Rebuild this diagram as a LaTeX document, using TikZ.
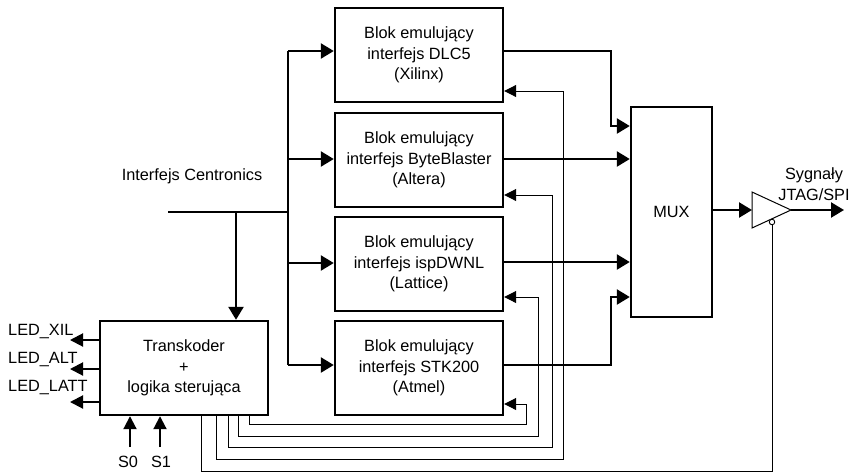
\documentclass[tikz,border=0pt]{standalone}
\usepackage{fontspec}
\setmainfont{Liberation Sans}
\usetikzlibrary{arrows.meta}
\newcommand\dfont{\fontsize{16.3}{20.5}\selectfont}
\begin{document}
\begin{tikzpicture}[x=1pt,y=-1pt,
  block/.style={draw, line width=2.4pt, minimum width=168pt, minimum height=94pt, align=center, inner sep=0pt, font=\dfont},
  lbl/.style={font=\dfont, inner sep=0pt, align=center},
  bus/.style={line width=2.4pt},
  bigarrow/.style={line width=2.4pt, -{Triangle[length=13pt,width=15pt]}},
  medarrow/.style={line width=2pt, -{Triangle[length=13pt,width=13pt]}},
  smallarrow/.style={line width=1pt, -{Triangle[length=12pt,width=12pt]}},
  thinline/.style={line width=1pt}]
\useasboundingbox (0,0) rectangle (856,472);

% blocks
\node[block] (b1) at (419,55) {Blok emulujący\\interfejs DLC5\\(Xilinx)};
\node[block] (b2) at (419,160) {Blok emulujący\\interfejs ByteBlaster\\(Altera)};
\node[block] (b3) at (419,264) {Blok emulujący\\interfejs ispDWNL\\(Lattice)};
\node[block] (b4) at (419,368) {Blok emulujący\\interfejs STK200\\(Atmel)};
\node[block] (t) at (184,368) {Transkoder\\+\\logika sterująca};
\node[draw, line width=2.4pt, minimum width=81pt, minimum height=210pt, inner sep=0pt, font=\dfont] (mux) at (671.5,212) {MUX};

% labels
\node[lbl] (lcen) at (192,176) {Interfejs Centronics};
\node[lbl, anchor=west] (lxil) at (8,332) {LED\_XIL};
\node[lbl, anchor=west] (lalt) at (8,360) {LED\_ALT};
\node[lbl, anchor=west] (llatt) at (8,388) {LED\_LATT};
\node[lbl] (ls0) at (128,462) {S0};
\node[lbl] (ls1) at (161,462) {S1};
\node[lbl] (lsyg) at (814,184) {Sygnały\\JTAG/SPI};

% Centronics bus
\coordinate (cin) at (168,212);
\coordinate (busj) at (288,212);
\coordinate (tbr) at (236,212);
\coordinate (bustop) at (288,51);
\coordinate (busbot) at (288,365);
\draw[bus] (cin) -- (busj);
\draw[bus] (bustop) -- (busbot);
\draw[bigarrow] (bustop) -- ([yshift=4pt]b1.west);
\draw[bigarrow] (288,159) -- ([yshift=1pt]b2.west);
\draw[bigarrow] (288,263) -- ([yshift=1pt]b3.west);
\draw[bigarrow] (busbot) -- ([yshift=3pt]b4.west);
\draw[bigarrow] (tbr) -- (tbr |- t.north);

% outputs to MUX
\draw[bigarrow] ([yshift=4pt]b1.east) -- (611,51) -- (611,126) -- ([yshift=86pt]mux.west);
\draw[bigarrow] ([yshift=1pt]b2.east) -- ([yshift=53pt]mux.west);
\draw[bigarrow] ([yshift=2pt]b3.east) -- ([yshift=-50pt]mux.west);
\draw[bigarrow] ([yshift=3pt]b4.east) -- (611,365) -- (611,297) -- ([yshift=-85pt]mux.west);

% buffer
\coordinate (bufin) at (752,210);
\coordinate (bufout) at (791,210);
\coordinate (sigout) at (844,210);
\draw[thinline, line join=miter] (752,192) -- (752,228) -- (bufout) -- cycle;
\node[circle, draw, line width=0.9pt, minimum size=5.5pt, inner sep=0pt, fill=white] (bub) at (772,222) {};
\draw[bigarrow] (mux.east |- bufin) -- (bufin);
\draw[bigarrow] (bufout) -- (sigout);

% LEDs
\draw[medarrow] ([yshift=28pt]t.west) -- (70,340);
\draw[medarrow] ([yshift=-1pt]t.west) -- (70,369);
\draw[medarrow] ([yshift=-34pt]t.west) -- (70,402);

% S0 S1
\draw[medarrow] (130,447) -- ([xshift=-54pt]t.south);
\draw[medarrow] (160,447) -- ([xshift=-24pt]t.south);

% feedback lines
\draw[smallarrow] ([xshift=65pt]t.south) |- (526,424) |- ([yshift=-36pt]b4.east);
\draw[smallarrow] ([xshift=54pt]t.south) |- (538,436) |- ([yshift=-33pt]b3.east);
\draw[smallarrow] ([xshift=44pt]t.south) |- (552,447) |- ([yshift=-35pt]b2.east);
\draw[smallarrow] ([xshift=32pt]t.south) |- (563,459) |- ([yshift=-36pt]b1.east);
\draw[thinline] ([xshift=17pt]t.south) |- (772,471) -- (bub.south);
\end{tikzpicture}
\end{document}
